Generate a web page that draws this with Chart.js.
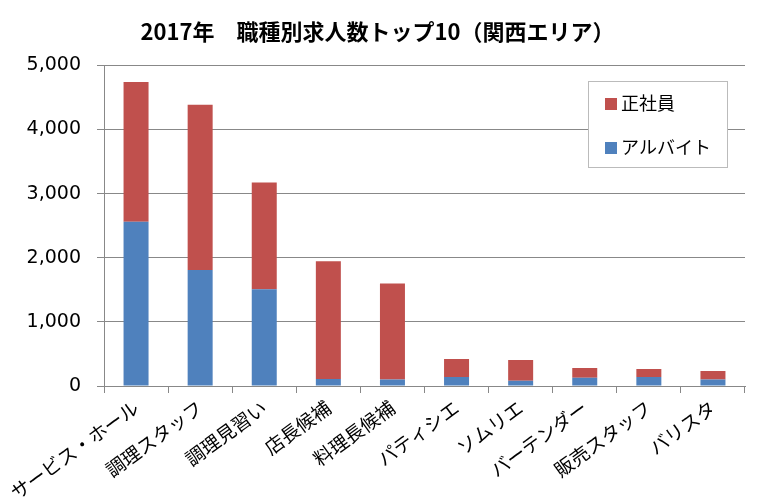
<!DOCTYPE html>
<html>
<head>
<meta charset="utf-8">
<script src="https://cdn.jsdelivr.net/npm/chart.js@4"></script>
<style>
  body { margin: 0; background: #fff; }
  #wrap { width: 763px; height: 502px; }
</style>
</head>
<body>
<div id="wrap"><canvas id="jobsChart"></canvas></div>
<script>
const categories = ['サービス・ホール', '調理スタッフ', '調理見習い', '店長候補', '料理長候補', 'パティシエ', 'ソムリエ', 'バーテンダー', '販売スタッフ', 'バリスタ'];
const partTime = [2560, 1810, 1510, 110, 100, 140, 80, 130, 140, 100];
const fullTime = [2180, 2575, 1665, 1835, 1500, 280, 325, 150, 125, 135];
const yTicks = [0, 1000, 2000, 3000, 4000, 5000];

const jpFont = '"Noto Sans CJK JP", "Noto Sans", sans-serif';

// legend box drawn inside the plot, 正社員 listed first
const boxLegend = {
  id: 'boxLegend',
  afterDraw(chart) {
    const ctx = chart.ctx;
    const x = 588, y = 81, w = 139, h = 86;
    ctx.save();
    ctx.fillStyle = '#fff';
    ctx.fillRect(x, y, w, h);
    ctx.strokeStyle = '#bbb';
    ctx.lineWidth = 1;
    ctx.strokeRect(x + 0.5, y + 0.5, w, h);
    const items = chart.data.datasets.slice().reverse();
    ctx.font = '18px ' + jpFont;
    ctx.textBaseline = 'middle';
    items.forEach((ds, i) => {
      const cy = y + 22 + i * 44;
      ctx.fillStyle = ds.backgroundColor;
      ctx.fillRect(x + 17, cy - 5, 12, 12);
      ctx.fillStyle = '#000';
      ctx.fillText(ds.label, x + 33, cy);
    });
    ctx.restore();
  }
};

new Chart(document.getElementById('jobsChart').getContext('2d'), {
  type: 'bar',
  data: {
    labels: categories,
    datasets: [
      { label: 'アルバイト', data: partTime, backgroundColor: '#4f81bd' },
      { label: '正社員', data: fullTime, backgroundColor: '#c0504d' }
    ]
  },
  plugins: [boxLegend],
  options: {
    responsive: true,
    maintainAspectRatio: false,
    animation: false,
    layout: { padding: { top: 8, right: 18, left: 10, bottom: 0 } },
    plugins: {
      legend: { display: false },
      tooltip: { enabled: false },
      title: {
        display: true,
        text: '2017年　職種別求人数トップ10（関西エリア）',
        color: '#000',
        font: { family: jpFont, size: 22, weight: 'bold' },
        padding: { top: 10, bottom: 21 }
      }
    },
    datasets: { bar: { categoryPercentage: 1, barPercentage: 0.39 } },
    scales: {
      x: {
        stacked: true,
        afterFit(scale) { scale.height = 116; },
        grid: { offset: true, drawOnChartArea: false, color: '#888', tickLength: 7 },
        border: { color: '#888' },
        ticks: {
          minRotation: 36, maxRotation: 36,
          color: '#000',
          font: { family: jpFont, size: 19 }
        }
      },
      y: {
        stacked: true,
        min: 0, max: 5000,
        afterFit(scale) { scale.width = 94; },
        afterBuildTicks(scale) { scale.ticks = yTicks.map(v => ({ value: v })); },
        grid: { color: '#888', tickLength: 7 },
        border: { color: '#888' },
        ticks: {
          color: '#000',
          padding: 16,
          font: { family: '"DejaVu Sans", Verdana, sans-serif', size: 19 },
          callback: v => v.toLocaleString('en-US')
        }
      }
    }
  }
});
</script>
</body>
</html>
